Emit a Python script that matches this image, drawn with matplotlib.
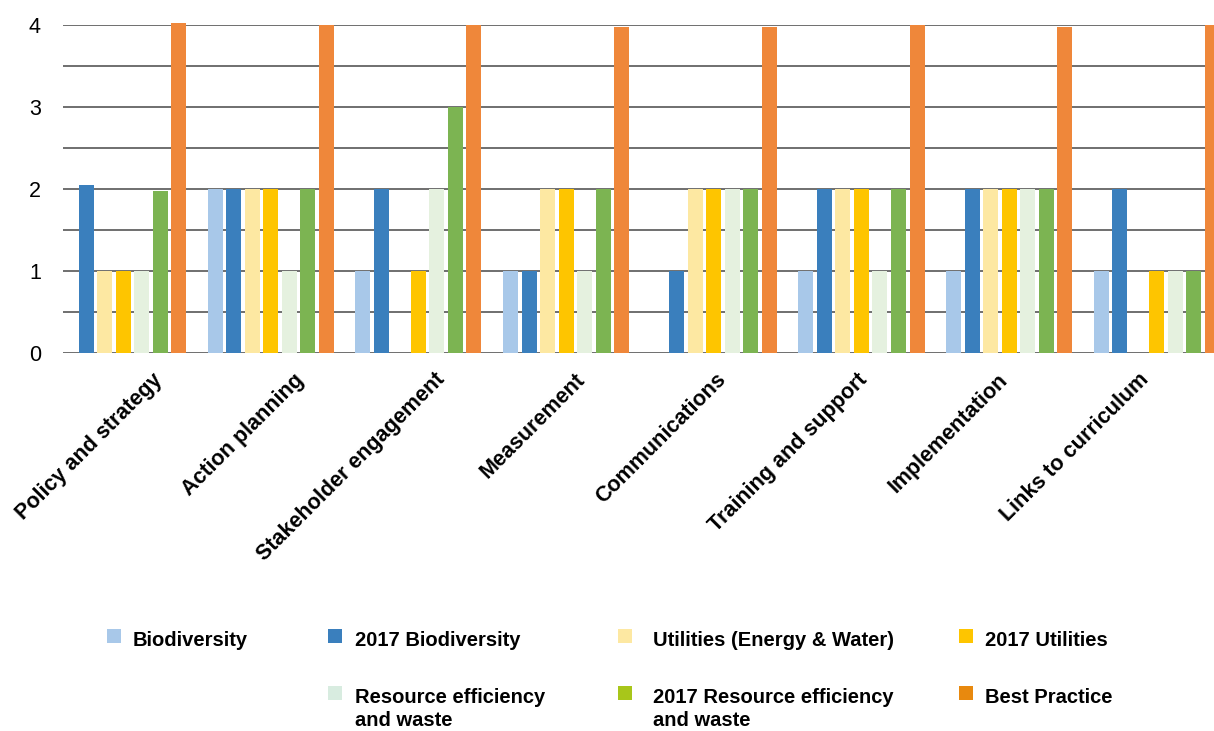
import numpy as np
import matplotlib
matplotlib.use("Agg")
import matplotlib.pyplot as plt
from matplotlib.patches import Rectangle
from matplotlib.transforms import blended_transform_factory

plt.rcParams["font.family"] = ["Liberation Sans", "DejaVu Sans"]

CATEGORIES = [
    "Policy and strategy", "Action planning", "Stakeholder engagement",
    "Measurement", "Communications", "Training and support",
    "Implementation", "Links to curriculum",
]

SERIES = [
    "Biodiversity", "2017 Biodiversity", "Utilities (Energy & Water)",
    "2017 Utilities", "Resource efficiency\nand waste",
    "2017 Resource efficiency\nand waste", "Best Practice",
]

biodiversity      = [0, 2, 1, 1, 0, 1, 1, 1]
biodiversity_2017 = [2.05, 2, 2, 1, 1, 2, 2, 2]
utilities         = [1, 2, 0, 2, 2, 2, 2, 0]
utilities_2017    = [1, 2, 1, 2, 2, 2, 2, 1]
resource          = [1, 1, 2, 1, 2, 1, 2, 1]
resource_2017     = [1.98, 2, 3, 2, 2, 2, 2, 1]
best_practice     = [4.03, 4, 4, 3.98, 3.98, 4, 3.97, 4]

VALUES = [biodiversity, biodiversity_2017, utilities, utilities_2017,
          resource, resource_2017, best_practice]

BAR_COLORS = ["#a8c8e9", "#3a7fbd", "#fde8a2", "#fec500",
              "#e5f1df", "#7cb452", "#ef873a"]
LEGEND_COLORS = ["#a8c8e9", "#3a7fbd", "#fde8a2", "#fec500",
                 "#d8ece0", "#a8c61a", "#e8890e"]

W, H = 1214, 731
fig = plt.figure(figsize=(W / 100, H / 100), dpi=100)

# plot area in pixels: x from 63 to the right edge, y=0 at 353, y=4 at 25
ax = fig.add_axes([63 / W, 1 - 353 / H, 1 - 63 / W, 328 / H])

x = np.arange(len(CATEGORIES))
step, width = 0.1253, 0.1016
for j, (vals, col) in enumerate(zip(VALUES, BAR_COLORS)):
    ax.bar(x + (j - 3) * step, vals, width=width, color=col,
           zorder=3, clip_on=False, linewidth=0)

ax.set_xlim(-0.407, 7.387)
ax.set_ylim(0, 4)

ax.set_yticks([0, 1, 2, 3, 4])
ax.set_yticks(np.arange(0.5, 4, 1.0), minor=True)
ax.set_yticklabels(["0", "1", "2", "3", "4"], fontsize=15.5)
ax.tick_params(axis="y", which="both", length=0, pad=16)
ax.grid(axis="y", which="both", color="#6f6f6f", linewidth=1.4, zorder=0)
ax.set_axisbelow(True)
ax.set_xticks([])
for s in ax.spines.values():
    s.set_visible(False)

# rotated category labels
trans = blended_transform_factory(ax.transData, ax.transAxes)
for i, name in enumerate(CATEGORIES):
    ax.text(0.197 + i * 0.954, -0.05, name, transform=trans, rotation=45,
            rotation_mode="anchor", ha="right", va="top",
            fontsize=15.5, fontweight="bold", clip_on=False)

# legend drawn by hand in figure pixels; wrapped labels get 23 px per line
legend_slots = [(107, 629, 133), (328, 629, 355), (618, 629, 653), (959, 629, 985),
                (328, 686, 355), (618, 686, 653), (959, 686, 985)]
for (sx, sy, tx), label, col in zip(legend_slots, SERIES, LEGEND_COLORS):
    fig.patches.append(Rectangle((sx / W, 1 - (sy + 14) / H), 14 / W, 14 / H,
                                 transform=fig.transFigure, color=col,
                                 linewidth=0))
    for k, line in enumerate(label.split("\n")):
        fig.text(tx / W, 1 - (sy + 17 + 23 * k) / H, line, fontsize=14.5,
                 fontweight="bold", ha="left", va="baseline")

fig.savefig("out.png", dpi=100)
